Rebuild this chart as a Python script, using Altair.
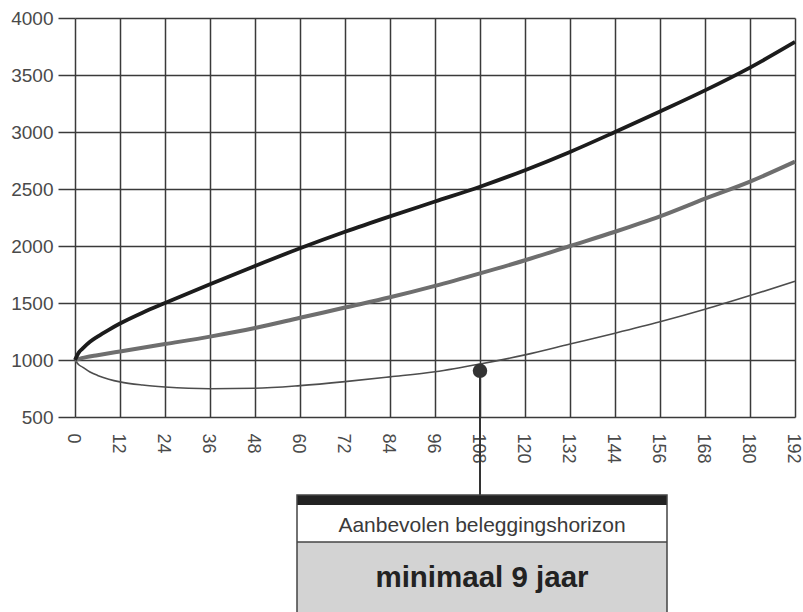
import altair as alt
import pandas as pd

# Months (x) and portfolio value (y) for three scenarios
months_fav = [0, 1, 2, 4, 6, 9, 12, 18, 24, 36, 48, 60, 72, 84, 96, 108, 120, 132, 144, 156, 168, 180, 192]
value_fav = [1000, 1065, 1100, 1160, 1205, 1265, 1320, 1415, 1500, 1665, 1825, 1980, 2125, 2260, 2390, 2520, 2665, 2825, 3000, 3180, 3365, 3565, 3790]

months_mid = [0, 3, 6, 12, 24, 36, 48, 60, 72, 84, 96, 108, 120, 132, 144, 156, 168, 180, 192]
value_mid = [1000, 1025, 1042, 1075, 1140, 1205, 1280, 1370, 1460, 1550, 1650, 1760, 1875, 2000, 2125, 2260, 2415, 2565, 2740]

months_unf = [0, 1, 2, 4, 6, 9, 12, 18, 24, 36, 48, 60, 72, 84, 96, 108, 120, 132, 144, 156, 168, 180, 192]
value_unf = [1000, 958, 938, 895, 865, 832, 808, 780, 763, 748, 752, 775, 810, 852, 897, 965, 1045, 1140, 1235, 1335, 1445, 1565, 1690]

# Marker for the recommended horizon
horizon_month = [108]
horizon_value = [905]

# Tick labels
x_ticks = list(range(0, 193, 12))
y_ticks = list(range(500, 4001, 500))

box_title = "Aanbevolen beleggingshorizon"
box_value = "minimaal 9 jaar"

GRID = "#3a3a3a"
LABEL = "#4a4a4a"
FONT = "Liberation Sans"

x_enc = alt.X(
    "month:Q",
    scale=alt.Scale(domain=[0, 192], nice=False),
    axis=alt.Axis(
        values=x_ticks, title=None, grid=True, gridColor=GRID, gridWidth=1.5,
        gridOpacity=1, domain=False, ticks=False, labelAngle=90, labelPadding=16,
        labelFont=FONT, labelFontSize=18, labelColor=LABEL, labelAlign="left",
        labelBaseline="middle", labelOffset=-3, format="d",
    ),
)
y_enc = alt.Y(
    "value:Q",
    scale=alt.Scale(domain=[500, 4000], nice=False, zero=False),
    axis=alt.Axis(
        values=y_ticks, title=None, grid=True, gridColor=GRID, gridWidth=1.5,
        gridOpacity=1, domain=False, ticks=True, tickSize=17, tickColor=GRID,
        tickWidth=1.5, labelPadding=5, labelFont=FONT, labelFontSize=19,
        labelColor=LABEL, format="d",
    ),
)


def series(months, values, color, width):
    df = pd.DataFrame({"month": months, "value": values})
    return alt.Chart(df).mark_line(
        color=color, strokeWidth=width, interpolate="monotone"
    ).encode(x=x_enc, y=y_enc)


unf = series(months_unf, value_unf, "#4d4d4d", 1.6)
mid = series(months_mid, value_mid, "#6e6e6e", 4)
fav = series(months_fav, value_fav, "#1c1c1c", 3.8)

marker_df = pd.DataFrame({"month": horizon_month, "value": horizon_value})
stem = alt.Chart(marker_df).mark_rule(color="#333333", strokeWidth=2).encode(
    x=x_enc, y=y_enc, y2=alt.value(477)
)
dot = alt.Chart(marker_df).mark_point(
    filled=True, color="#333333", size=210, opacity=1
).encode(x=x_enc, y=y_enc)

one = alt.Data(values=[{}])
BOX_L, BOX_R = 222, 592

box_white = alt.Chart(one).mark_rect(color="white").encode(
    x=alt.value(BOX_L), x2=alt.value(BOX_R), y=alt.value(487), y2=alt.value(524)
)
box_grey = alt.Chart(one).mark_rect(color="#d3d3d3").encode(
    x=alt.value(BOX_L), x2=alt.value(BOX_R), y=alt.value(524), y2=alt.value(600)
)
box_bar = alt.Chart(one).mark_rect(color="#222222").encode(
    x=alt.value(BOX_L), x2=alt.value(BOX_R), y=alt.value(477), y2=alt.value(487)
)
box_sep = alt.Chart(one).mark_rule(color="#444444", strokeWidth=1.5).encode(
    x=alt.value(BOX_L), x2=alt.value(BOX_R), y=alt.value(524)
)
box_frame = alt.Chart(one).mark_rect(
    fillOpacity=0, stroke="#444444", strokeWidth=1.5
).encode(x=alt.value(BOX_L), x2=alt.value(BOX_R), y=alt.value(477), y2=alt.value(600))

title_txt = alt.Chart(one).mark_text(
    font=FONT, fontSize=21, color="#3a3a3a", align="center", baseline="alphabetic"
).encode(x=alt.value(407), y=alt.value(514), text=alt.value(box_title))
value_txt = alt.Chart(one).mark_text(
    font=FONT, fontSize=29.5, fontWeight="bold", color="#222222", align="center",
    baseline="alphabetic",
).encode(x=alt.value(407), y=alt.value(569), text=alt.value(box_value))

chart = alt.layer(
    unf, mid, fav, stem, dot,
    box_white, box_grey, box_bar, box_sep, box_frame, title_txt, value_txt,
).properties(
    width=720,
    height=399,
    autosize=alt.AutoSizeParams(type="none"),
    padding={"left": 75, "top": 18, "right": 8, "bottom": 195},
    background="white",
).configure_view(strokeWidth=0)

chart.save("out.html", embed_options={"renderer": "svg", "actions": False})
